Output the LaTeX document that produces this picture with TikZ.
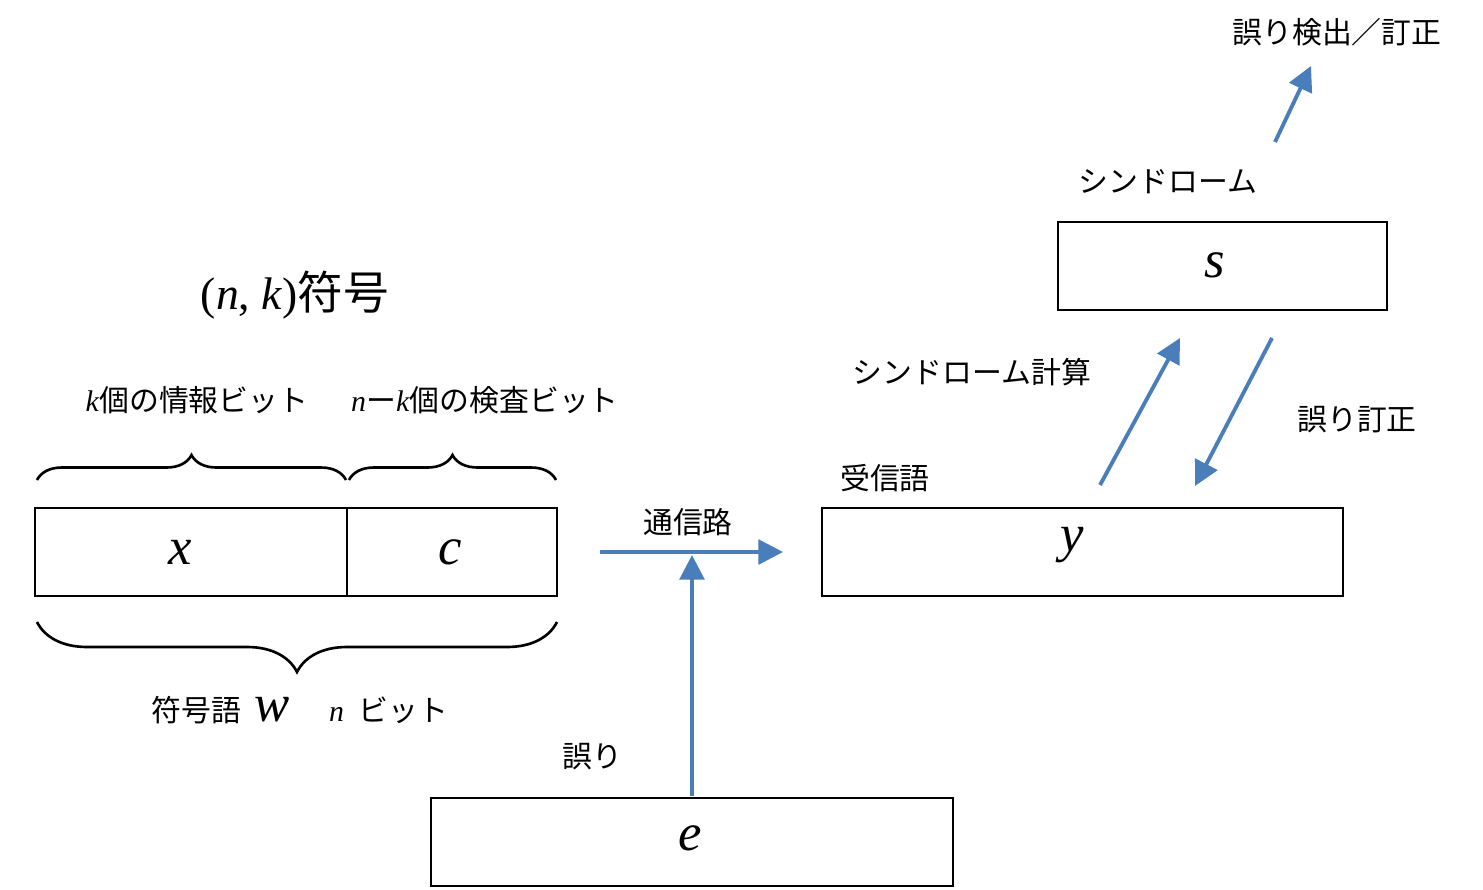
\documentclass[tikz,border=0pt]{standalone}
\usepackage{fontspec}
\setmainfont{Liberation Serif}
\newfontfamily\jp{Noto Sans CJK JP}
\usetikzlibrary{arrows.meta, calc}
\usetikzlibrary{decorations.pathreplacing}
\definecolor{myblue}{RGB}{74, 126, 187}
\tikzstyle{word} = [draw=black, line width=1.5pt, inner sep=0,
    font=\fontsize{30}{30}\selectfont\itshape]
\tikzstyle{label} = [inner sep=0, font=\fontsize{17}{20}\selectfont\jp]
\tikzstyle{flow} = [draw=myblue, line width=2.2pt, -{Triangle[length=14pt,width=14pt]}]
\tikzstyle{brace} = [draw=black, line width=1.5pt, decorate]

\begin{document}
\begin{tikzpicture}[x=0.02cm, y=-0.02cm]
\useasboundingbox (0,0) rectangle (1483,889);

%%% code word
\draw[word] (35,508) rectangle (347,596);
\draw[word] (347,508) rectangle (557,596);
\node[word, draw=none] (x) at (180,552) {x};
\node[word, draw=none] (c) at (450,552) {c};
\draw[brace, decoration={brace, amplitude=0.5cm}] (37,480) -- (346,480);
\draw[brace, decoration={brace, amplitude=0.5cm}] (349,480) -- (556,480);
\draw[brace, decoration={brace, amplitude=1cm}] (557,622) -- (37,622);

%%% received word, syndrome, error
\draw[word] (822,508) rectangle (1343,596);
\node[word, draw=none] (y) at (1072,545) {y};
\draw[word] (1058,222) rectangle (1387,310);
\node[word, draw=none] (s) at (1215,265) {s};
\draw[word] (431,798) rectangle (953,886);
\node[word, draw=none] (e) at (690,838) {e};

%%% labels
\node[label, font=\fontsize{26}{30}\selectfont] (title) at (295,295) {\rmfamily(\textit{n}, \textit{k})\jp 符号};
\node[label] (info) at (197,400) {\rmfamily\textit{k}\jp 個の情報ビット};
\node[label] (check) at (485,400) {\rmfamily\textit{n}\jp ー\rmfamily\textit{k}\jp 個の検査ビット};
\node[label] (cw) at (300,710) {符号語\ \ \rmfamily\fontsize{30}{30}\selectfont\textit{w}\ \ \ \fontsize{17}{20}\selectfont\textit{n}\ \ \jp ビット};
\node[label] (chan) at (688,522) {通信路};
\node[label] (err) at (592,757) {誤り};
\node[label] (recv) at (885,478) {受信語};
\node[label] (calc) at (972,372) {シンドローム計算};
\node[label] (corr) at (1357,420) {誤り訂正};
\node[label] (synd) at (1168,182) {シンドローム};
\node[label] (det) at (1337,32) {誤り検出／訂正};

%%% arrows
\coordinate (ch1) at (600,552);
\coordinate (ch2) at (783,552);
\coordinate (er1) at (692,796);
\coordinate (er2) at (692,555);
\coordinate (up1) at (1100,485);
\coordinate (up2) at (1180,338);
\coordinate (dn1) at (1272,338);
\coordinate (dn2) at (1195,486);
\coordinate (out1) at (1275,142);
\coordinate (out2) at (1311,66);
\draw[flow] (ch1) -- (ch2);
\draw[flow] (er1) -- (er2);
\draw[flow] (up1) -- (up2);
\draw[flow] (dn1) -- (dn2);
\draw[flow] (out1) -- (out2);

\end{tikzpicture}
\end{document}
